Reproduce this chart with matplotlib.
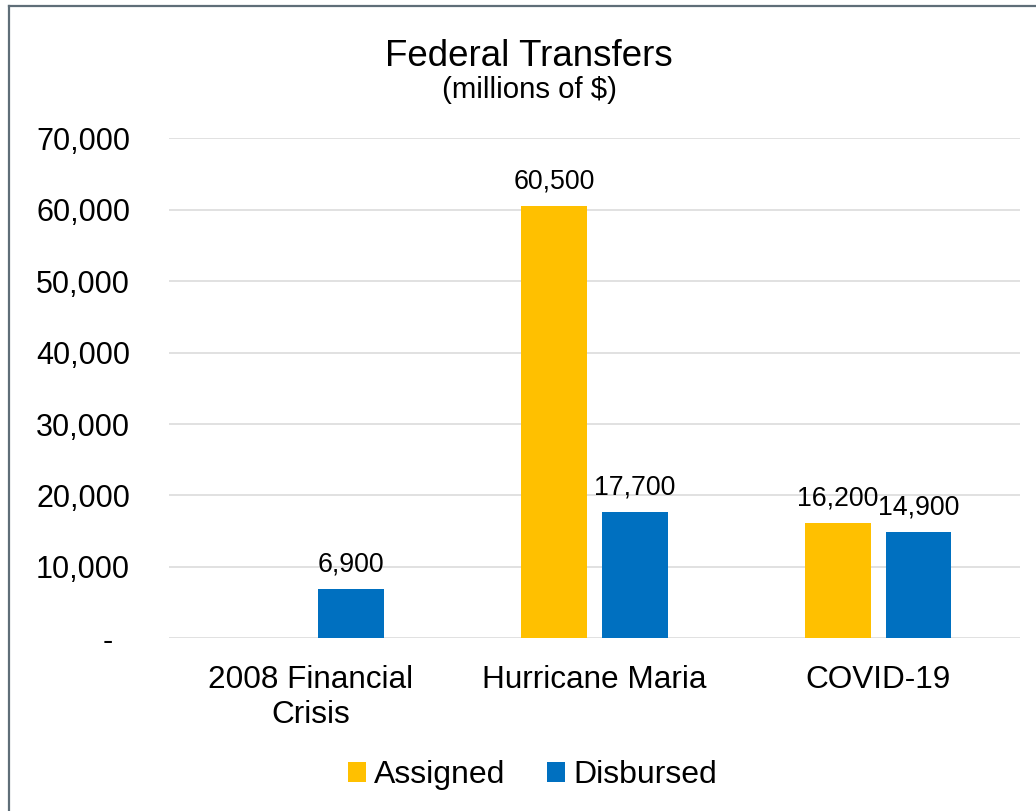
import numpy as np
import matplotlib
matplotlib.use("Agg")
import matplotlib.pyplot as plt
from matplotlib.lines import Line2D
from matplotlib.patches import Patch
from matplotlib.ticker import FuncFormatter

plt.rcParams["font.family"] = ["Liberation Sans", "DejaVu Sans"]

categories = ["2008 Financial\nCrisis", "Hurricane Maria", "COVID-19"]
assigned = [np.nan, 60500, 16200]
disbursed = [6900, 17700, 14900]
series_names = ["Assigned", "Disbursed"]
y_ticks = [0, 10000, 20000, 30000, 40000, 50000, 60000, 70000]

COL_ASSIGNED = "#FFC000"
COL_DISBURSED = "#0070C0"
GRID = "#D9D9D9"

W, H = 1036, 811
fig = plt.figure(figsize=(W / 100, H / 100), dpi=100)
fig.patch.set_facecolor("white")

ax = fig.add_axes([169 / W, 1 - 638.3 / H, (1020 - 169) / W, 500 / H])

x = np.arange(len(categories))
bw = 0.231
off = 0.1424
b1 = ax.bar(x - off, assigned, bw, color=COL_ASSIGNED, zorder=3)
b2 = ax.bar(x + off, disbursed, bw, color=COL_DISBURSED, zorder=3)

for bars, vals in ((b1, assigned), (b2, disbursed)):
    for rect, v in zip(bars, vals):
        if np.isnan(v):
            continue
        ax.annotate(f"{v:,.0f}", (rect.get_x() + rect.get_width() / 2, v),
                    xytext=(0, 12.5), textcoords="offset points",
                    ha="center", va="baseline", fontsize=19.3, color="black")

ax.set_xlim(-0.5, len(categories) - 0.5)
ax.set_ylim(0, 70000)
ax.set_yticks(y_ticks)
ax.yaxis.set_major_formatter(FuncFormatter(lambda v, p: "-  " if v == 0 else f"{v:,.0f}"))
ax.set_xticks(x)
ax.set_xticklabels(categories, fontsize=22.7, linespacing=1.2)
ax.tick_params(axis="y", length=0, pad=28, labelsize=22)
ax.tick_params(axis="x", length=0, pad=19.5)
ax.grid(axis="y", color=GRID, linewidth=1.1, zorder=0)
for s in ax.spines.values():
    s.set_visible(False)

fig.text(528.5 / W, 1 - 65.7 / H, "Federal Transfers", ha="center", va="baseline", fontsize=26.5)
fig.text(529.5 / W, 1 - 98.5 / H, "(millions of $)", ha="center", va="baseline", fontsize=21.2)

handles = [Patch(facecolor=COL_ASSIGNED), Patch(facecolor=COL_DISBURSED)]
fig.legend(handles, series_names, loc="center", bbox_to_anchor=(532.5 / W, 1 - 775 / H),
           ncol=2, frameon=False, fontsize=23, handlelength=0.57, handleheight=0.57,
           handletextpad=0.26, columnspacing=1.3, borderpad=0, borderaxespad=0)

# chart frame (left and top edges)
fig.add_artist(Line2D([9 / W, 9 / W], [0, 1 - 6 / H], color="#5F6E78", linewidth=1.6))
fig.add_artist(Line2D([9 / W, 1], [1 - 6 / H, 1 - 6 / H], color="#5F6E78", linewidth=1.6))

fig.savefig("out.png", dpi=100, facecolor="white")
